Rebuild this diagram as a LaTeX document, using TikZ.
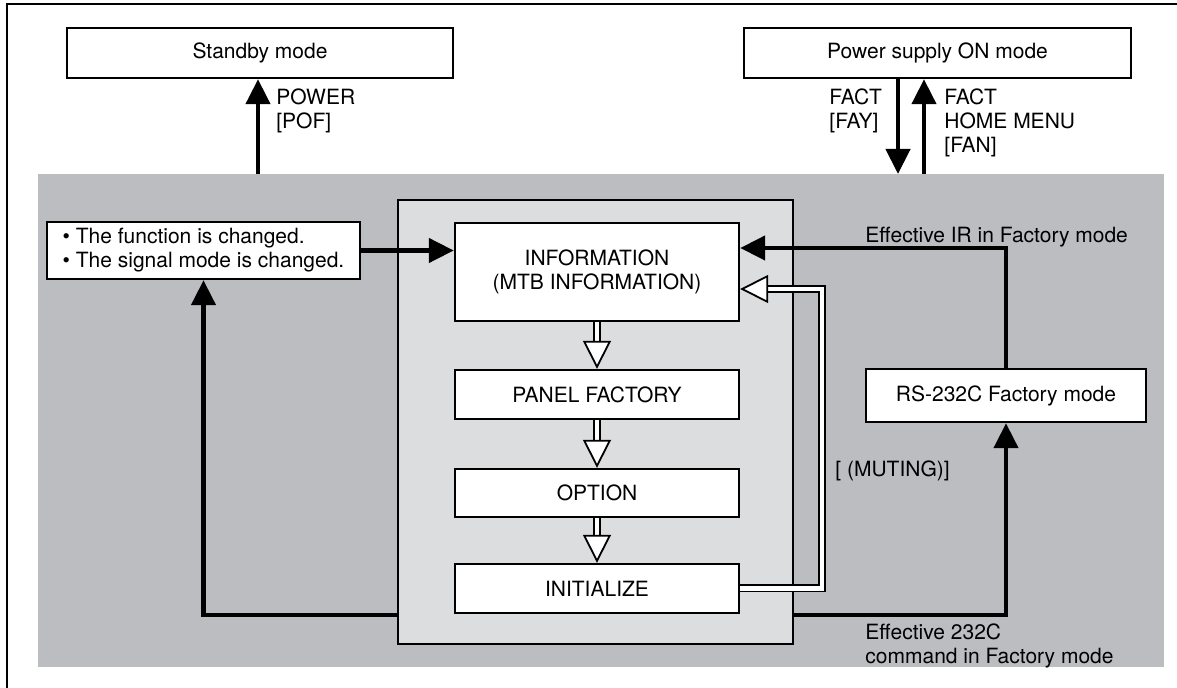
\documentclass[tikz,border=0pt]{standalone}
\usepackage{fontspec}
\setmainfont{TeX Gyre Heros}
\usetikzlibrary{arrows.meta}
\definecolor{modegray}{RGB}{188,189,193}
\definecolor{menugray}{RGB}{220,221,223}
\tikzset{
  modebox/.style={draw, line width=1.2pt, fill=white, inner sep=0pt, align=center},
  thickarrow/.style={line width=2.2pt, -{Triangle[length=12.5pt,width=12pt]}},
  hollowarrow/.style={double, line width=0.9pt, double distance=2.2pt, line join=miter,
    -{Triangle[open,fill=white,length=14pt,width=14pt,line width=0.9pt]}},
  note/.style={inner sep=0pt, align=left}
}

\begin{document}
\begin{tikzpicture}[x=0.5pt,y=-0.5pt,font=\fontsize{10.5}{12}\selectfont]
\useasboundingbox (0,0) rectangle (1177,688);
\draw[line width=1pt] (7,688) -- (7,4) -- (1177,4);
\fill[modegray] (38,174) rectangle (1164,667);
\node[draw, line width=1pt, fill=menugray, minimum width=197.5pt, minimum height=222pt, inner sep=0pt] (menu) at (595.5,422) {};
% the mode boxes
\node[modebox, minimum width=193pt, minimum height=25pt] (standby) at (260,53) {Standby mode};
\node[modebox, minimum width=193.5pt, minimum height=25pt] (poweron) at (937.5,53) {Power supply ON mode};
\node[modebox, minimum width=156.5pt, minimum height=28.5pt, align=left] (changed) at (203.5,250.5) {\textbullet\ The function is changed.\\\textbullet\ The signal mode is changed.};
\node[modebox, minimum width=142pt, minimum height=49pt] (info) at (597,272) {INFORMATION\\(MTB INFORMATION)};
\node[modebox, minimum width=142pt, minimum height=24.5pt] (panel) at (597,394.5) {PANEL FACTORY};
\node[modebox, minimum width=142pt, minimum height=24pt] (option) at (597,493) {OPTION};
\node[modebox, minimum width=142pt, minimum height=24.5pt] (init) at (597,588.5) {INITIALIZE};
\node[modebox, minimum width=140pt, minimum height=26.5pt] (rs) at (1006,395.5) {RS-232C Factory mode};
% ends and bends of the connectors
\coordinate (pof) at (258,174);
\coordinate (fay) at (898,174);
\coordinate (fan) at (924,174);
\coordinate (back) at (202,615);
\coordinate (cmd) at (1006,615);
\coordinate (ir) at (1006,248);
\coordinate (mute) at (822,289);
\draw[thickarrow] (pof) -- (pof |- standby.south);
\draw[thickarrow] (poweron.south -| fay) -- (fay);
\draw[thickarrow] (fan) -- (fan |- poweron.south);
\draw[thickarrow] (changed.east) -- (info.west |- changed.east);
\draw[thickarrow] (rs.north) |- (info.east |- ir);
\draw[thickarrow] (menu.east |- cmd) -| (rs.south);
\draw[thickarrow] (menu.west |- back) -| (changed.south);
\foreach \a/\b in {info/panel, panel/option, option/init}
  \draw[hollowarrow] (\a.south) -- (\b.north);
\draw[hollowarrow] (init.east) -| (mute) -- (info.east |- mute);
% the labels
\node[note, anchor=north west] (powerkey) at (276,88.5) {POWER\\{}[POF]};
\node[note, anchor=north west] (factkey) at (829,88.5) {FACT\\{}[FAY]};
\node[note, anchor=north west] (homekey) at (944,88.5) {FACT\\HOME MENU\\{}[FAN]};
\node[note, anchor=base west] (irnote) at (865,242.5) {Effective IR in Factory mode};
\node[note, anchor=base west] (mutekey) at (835,476.5) {[ (MUTING)]};
\node[note, anchor=north west] (cmdnote) at (865,623.5) {Effective 232C\\command in Factory mode};
\end{tikzpicture}
\end{document}
